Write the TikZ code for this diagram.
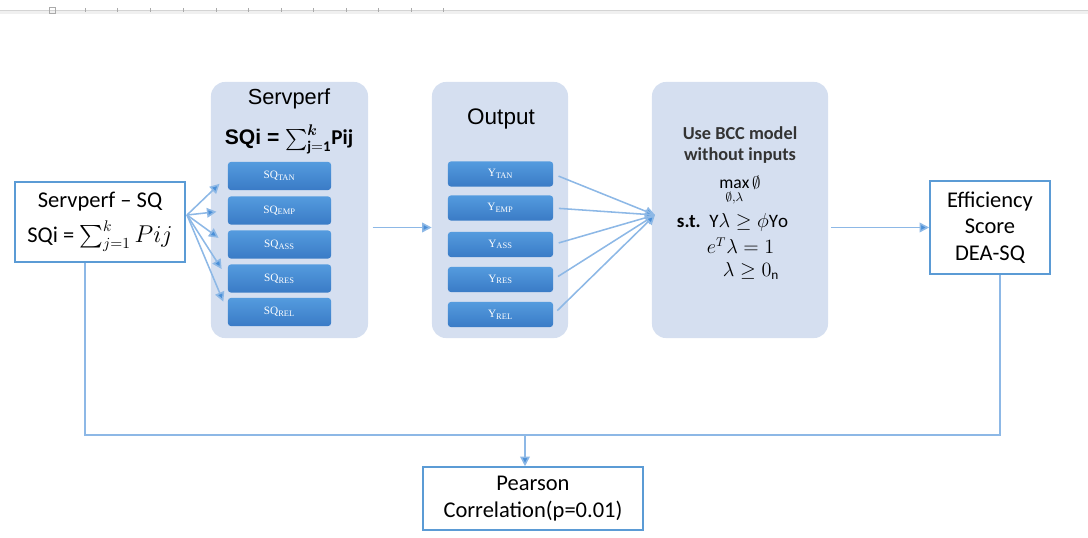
\documentclass[tikz,border=0pt]{standalone}
\usepackage{amsmath}
\usepackage{amssymb}
\usepackage{fontspec}
\setmainfont{Carlito}
\newfontfamily\headfont{Liberation Sans}
\newfontfamily\barfont{Liberation Serif}
\usepackage{xcolor}
\usepackage{tikz}
\usetikzlibrary{arrows.meta, positioning}
\definecolor{flowLine}{HTML}{8DB8E6}
\definecolor{flowTip}{HTML}{4A8FD8}
\definecolor{flowEdge}{HTML}{5B9BD5}
\definecolor{panelFill}{HTML}{D5DFF0}
\definecolor{barTop}{HTML}{549BDE}
\definecolor{barBottom}{HTML}{3A7BC6}
\definecolor{rulerGray}{HTML}{D4D4D4}

\begin{document}
\begin{tikzpicture}[
  x=0.025cm, y=-0.025cm,
  font=\fontsize{16}{19}\selectfont,
  whitebox/.style={draw=flowEdge, line width=1.1pt, fill=white, align=center, inner sep=2pt},
  panel/.style={rounded corners=10pt, fill=panelFill, minimum width=#1, minimum height=6.4cm},
  bar/.style={rounded corners=2pt, top color=barTop, bottom color=barBottom,
              minimum height=#1, text=white, font=\barfont\fontsize{8}{9}\selectfont},
  link/.style={draw=flowLine, line width=1.1pt},
  a/.style={link, -{Triangle[length=2.4mm, width=2.4mm, fill=flowTip]}}
]
\useasboundingbox (0,0) rectangle (1088,538);

% ruler strip along the top
\fill[rulerGray!35] (0,10) rectangle (1088,14);
\draw[rulerGray, line width=0.6pt] (0,10) -- (1088,10);
\foreach \tx in {85,117,150,183,216,248,281,313,346,378,411,443}
  \draw[rulerGray!80!black, line width=0.5pt] (\tx,8) -- (\tx,12);
\draw[rulerGray!80!black, line width=0.5pt] (49,7) rectangle (55,13);

% panels
\node[panel=3.925cm] (sp) at (289.5,210) {};
\node[panel=3.4cm] (out) at (500,210) {};
\node[panel=4.4cm] (bcc) at (740,210) {};

\node (spTitle) at (289,99) {\headfont\fontsize{15.5}{17}\selectfont Servperf};
\node (spFormula) at (289,139)
  {\headfont\bfseries\fontsize{15}{17}\selectfont SQi = $\boldsymbol{\sum}_{\mathbf{j=1}}^{\boldsymbol{k}}\mathbf{Pij}$};
\node (outTitle) at (501,119) {\headfont\fontsize{16}{18}\selectfont Output};

% dimension bars
\foreach \name/\yy/\sub in {1/176/TAN, 2/210.5/EMP, 3/244.5/ASS, 4/278.5/RES, 5/312/REL}
  \node[bar=0.7cm, minimum width=2.575cm] (sq\name) at (279.5,\yy) {SQ\textsubscript{\sub}};
\foreach \name/\yy/\sub in {1/174/TAN, 2/208/EMP, 3/244.5/ASS, 4/279.5/RES, 5/314.5/REL}
  \node[bar=0.625cm, minimum width=2.625cm] (y\name) at (500.5,\yy) {Y\textsubscript{\sub}};

% BCC model
\node[align=center, text=black!80, font=\bfseries\fontsize{13}{15}\selectfont] (bccHead) at (740,145)
  {Use BCC model\\without inputs};
\node (bccMax) at (740,191) {\fontsize{12.5}{14}\selectfont $\max\limits_{\emptyset,\lambda}\emptyset$};
\node[anchor=west] (bccSt) at (672,222)
  {\bfseries\fontsize{13.5}{15}\selectfont s.t.\ \ $\mathrm{Y}\lambda \geq \phi\mathrm{Yo}$};
\node[anchor=west] (bccE) at (702,246) {\fontsize{13.5}{15}\selectfont $e^{T}\lambda = 1$};
\node[anchor=west] (bccL) at (718,271) {\fontsize{13.5}{15}\selectfont $\lambda \geq 0_{\mathrm{n}}$};

% outer boxes
\node[whitebox, minimum width=4.25cm, minimum height=2cm] (src) at (100,222)
  {Servperf -- SQ\\[6pt]SQi = $\sum_{j=1}^{k} Pij$};
\node[whitebox, minimum width=3cm, minimum height=2.325cm] (eff) at (990,227.5)
  {Efficiency\\Score\\DEA-SQ};
\node[whitebox, minimum width=5.5cm, minimum height=1.575cm] (pearson) at (533,498.5)
  {Pearson\\Correlation(p=0.01)};

% fan into the dimensions
\coordinate (fanL) at (187,215);
\foreach \i in {1,...,5}
  \draw[a, shorten >=8pt] (fanL) -- (sq\i.west);

% outputs collected by the BCC model
\coordinate (hub) at (655,215);
\foreach \i in {1,...,5}
  \draw[a, shorten <=4pt] (y\i.east) -- (hub);

\draw[a] ([xshift=3pt]sp.east |- eff.west) -- (out.west |- eff.west);
\draw[a] ([xshift=2pt]bcc.east |- eff.west) -- (eff.west);

% correlation of both scores
\coordinate (corrL) at (85,435);
\coordinate (corrR) at (1000,435);
\draw[link] (src.south -| corrL) -- (corrL) -- (corrR) -- (eff.south -| corrR);
\coordinate (drop) at (525,435);
\draw[a] (drop) -- (drop |- pearson.north);

\end{tikzpicture}
\end{document}
